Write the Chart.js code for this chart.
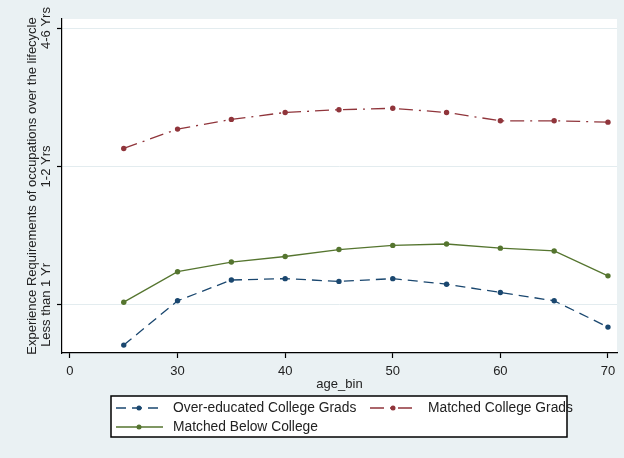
<!DOCTYPE html>
<html>
<head>
<meta charset="utf-8">
<script src="https://cdn.jsdelivr.net/npm/chart.js@4"></script>
<style>
  body { margin: 0; background: #eaf1f3; }
  canvas { display: block; }
</style>
</head>
<body>
<canvas id="chart" width="624" height="458"></canvas>
<script>
// age bins and the three series
const ages = [25, 30, 35, 40, 45, 50, 55, 60, 65, 70];
const overEducated = [0.71, 1.03, 1.18, 1.19, 1.17, 1.19, 1.15, 1.09, 1.03, 0.84];
const matchedCollege = [2.13, 2.27, 2.34, 2.39, 2.41, 2.42, 2.39, 2.33, 2.33, 2.32];
const matchedBelow = [1.02, 1.24, 1.31, 1.35, 1.40, 1.43, 1.44, 1.41, 1.39, 1.21];

const xTicks = [20, 30, 40, 50, 60, 70];
const xTickLabels = ["0", "30", "40", "50", "60", "70"];
const yTicks = [1, 2, 3];
const yTickLabels = ["Less than 1 Yr", "1-2 Yrs", "4-6 Yrs"];

const FONT = "'Liberation Sans', Arial, sans-serif";
const TEXT = "#222";

function pts(vals) {
  return ages.map((a, i) => ({ x: a, y: vals[i] }));
}

// white plot region
const plotBg = {
  id: "plotBg",
  beforeDraw(chart) {
    const { ctx, chartArea: a } = chart;
    ctx.save();
    ctx.fillStyle = "#fff";
    ctx.fillRect(a.left, a.top, a.right - a.left, a.bottom - a.top);
    ctx.restore();
  }
};

// rotated y tick labels (Stata style)
const yLabels = {
  id: "yLabels",
  afterDraw(chart) {
    const { ctx } = chart;
    const y = chart.scales.y;
    ctx.save();
    ctx.font = "13px " + FONT;
    ctx.fillStyle = TEXT;
    ctx.textAlign = "center";
    ctx.textBaseline = "middle";
    yTicks.forEach((t, i) => {
      ctx.save();
      ctx.translate(46, y.getPixelForValue(t));
      ctx.rotate(-Math.PI / 2);
      ctx.fillText(yTickLabels[i], 0, 0);
      ctx.restore();
    });
    ctx.restore();
  }
};

// boxed legend, two columns
const boxLegend = {
  id: "boxLegend",
  afterDraw(chart) {
    const { ctx } = chart;
    const ds = chart.data.datasets;
    const slots = [
      { sx: 116, tx: 173, y: 408 },
      { sx: 370, tx: 428, y: 408 },
      { sx: 116, tx: 173, y: 427 }
    ];
    ctx.save();
    ctx.fillStyle = "#fff";
    ctx.fillRect(111, 396, 456, 41);
    ctx.strokeStyle = "#000";
    ctx.lineWidth = 1.5;
    ctx.strokeRect(111, 396, 456, 41);
    ds.forEach((d, i) => {
      const s = slots[i];
      ctx.strokeStyle = d.borderColor;
      ctx.lineWidth = d.borderWidth;
      ctx.setLineDash(d.borderDash || []);
      ctx.beginPath();
      ctx.moveTo(s.sx, s.y);
      ctx.lineTo(s.sx + 47, s.y);
      ctx.stroke();
      ctx.setLineDash([]);
      ctx.fillStyle = d.borderColor;
      ctx.beginPath();
      ctx.arc(s.sx + 23, s.y, 2.5, 0, Math.PI * 2);
      ctx.fill();
      ctx.fillStyle = TEXT;
      ctx.font = "13.8px " + FONT;
      ctx.textBaseline = "middle";
      ctx.fillText(d.label, s.tx, s.y);
    });
    ctx.restore();
  }
};

new Chart(document.getElementById("chart"), {
  type: "line",
  data: {
    datasets: [
      {
        label: "Over-educated College Grads",
        data: pts(overEducated),
        borderColor: "#1a476f",
        backgroundColor: "#1a476f",
        borderWidth: 1.3,
        borderDash: [10, 6],
        pointRadius: 2.7,
        pointBorderWidth: 0
      },
      {
        label: "Matched College Grads",
        data: pts(matchedCollege),
        borderColor: "#90353b",
        backgroundColor: "#90353b",
        borderWidth: 1.3,
        borderDash: [14, 6, 2, 6],
        pointRadius: 2.7,
        pointBorderWidth: 0
      },
      {
        label: "Matched Below College",
        data: pts(matchedBelow),
        borderColor: "#55752f",
        backgroundColor: "#55752f",
        borderWidth: 1.3,
        pointRadius: 2.7,
        pointBorderWidth: 0
      }
    ]
  },
  options: {
    responsive: false,
    animation: false,
    layout: { padding: { left: 0, right: 7, top: 19, bottom: 66 } },
    plugins: { legend: { display: false }, tooltip: { enabled: false } },
    scales: {
      x: {
        type: "linear",
        min: 19.26,
        max: 70.84,
        afterBuildTicks: s => { s.ticks = xTicks.map(v => ({ value: v })); },
        afterFit: s => { s.height = 39; },
        border: { color: "#000", width: 1.2 },
        grid: { drawOnChartArea: false, tickLength: 5, color: "#000", tickWidth: 1.2 },
        ticks: {
          color: TEXT,
          font: { family: FONT, size: 13 },
          padding: 6,
          maxRotation: 0,
          callback: v => xTickLabels[xTicks.indexOf(v)]
        },
        title: {
          display: true,
          text: "age_bin",
          color: TEXT,
          font: { family: FONT, size: 13 },
          padding: { top: 0, bottom: 0 }
        }
      },
      y: {
        min: 0.653,
        max: 3.065,
        afterBuildTicks: s => { s.ticks = yTicks.map(v => ({ value: v })); },
        afterFit: s => { s.width = 62; },
        border: { color: "#000", width: 1.2 },
        grid: {
          color: "#e3ecef",
          tickColor: "#000",
          tickLength: 5,
          tickWidth: 1.2
        },
        ticks: { display: false },
        title: {
          display: true,
          text: "Experience Requirements of occupations over the lifecycle",
          color: TEXT,
          font: { family: FONT, size: 13 },
          padding: { top: 25, bottom: 0 }
        }
      }
    }
  },
  plugins: [plotBg, yLabels, boxLegend]
});
</script>
</body>
</html>
